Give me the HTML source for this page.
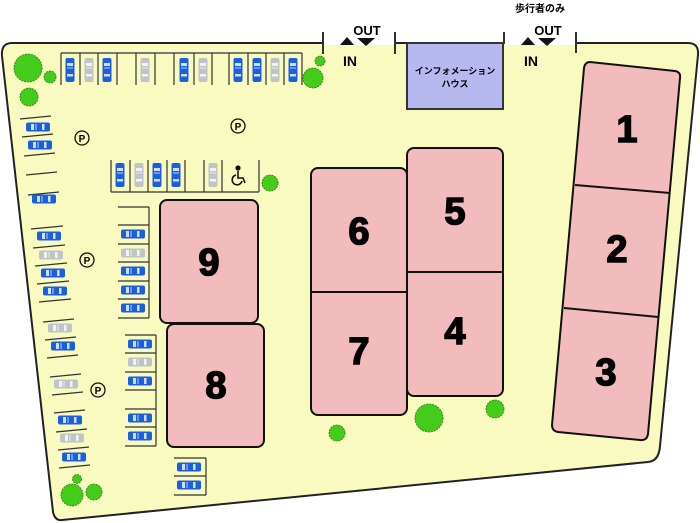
<!DOCTYPE html>
<html><head><meta charset="utf-8"><style>
html,body{margin:0;padding:0;background:#fff;}
svg{display:block;}
text{font-family:"Liberation Sans","Noto Sans CJK JP",sans-serif;font-weight:bold;}
</style></head><body>
<svg width="700" height="523" viewBox="0 0 700 523" xmlns="http://www.w3.org/2000/svg">
<defs>
<g id="cv"><rect x="-4.5" y="-12" width="9" height="24" rx="2"/><rect x="-3" y="-7" width="6" height="3" fill="#fff" opacity="0.8"/><rect x="-3" y="4" width="6" height="2.5" fill="#fff" opacity="0.8"/><line x1="-3" y1="-2" x2="3" y2="-2" stroke="#fff" stroke-width="0.7"/></g>
<g id="ch"><rect x="-12" y="-4.5" width="24" height="9" rx="2"/><rect x="-7" y="-3" width="3" height="6" fill="#fff" opacity="0.8"/><rect x="4" y="-3" width="2.5" height="6" fill="#fff" opacity="0.8"/><line x1="-2" y1="-3" x2="-2" y2="3" stroke="#fff" stroke-width="0.7"/></g>
</defs>
<path d="M12,43 L688,43 Q699,43 698,55 L660,446 Q659,461 648,462 L62,520 Q55,521 53,512 L2,56 Q1,43 12,43 Z" fill="#f9fac0" stroke="#222" stroke-width="2"/>
<rect x="324" y="41" width="70" height="4" fill="#fff"/>
<rect x="505" y="41" width="70" height="4" fill="#fff"/>
<g stroke="#333" stroke-width="2"><line x1="323" y1="32" x2="323" y2="54"/><line x1="395" y1="32" x2="395" y2="54"/><line x1="504" y1="32" x2="504" y2="44"/><line x1="576" y1="32" x2="576" y2="53"/></g>
<polygon points="340,45 347,37 354,45" fill="#111"/><polygon points="357,38 375,38 366,46" fill="#111"/>
<polygon points="521,45 528,37 535,45" fill="#111"/><polygon points="538,38 556,38 547,46" fill="#111"/>
<text x="367" y="35" font-size="13" text-anchor="middle">OUT</text>
<text x="350" y="66" font-size="14" text-anchor="middle">IN</text>
<text x="548" y="35" font-size="13" text-anchor="middle">OUT</text>
<text x="531" y="66" font-size="14" text-anchor="middle">IN</text>
<text x="540" y="12" font-size="10" text-anchor="middle">歩行者のみ</text>
<rect x="407" y="43" width="96" height="66" fill="#b8b8f0" stroke="#333" stroke-width="2"/>
<text x="455" y="74" font-size="9" text-anchor="middle">インフォメーション</text>
<text x="455" y="87" font-size="9" text-anchor="middle">ハウス</text>
<g fill="#f2bcbc" stroke="#111" stroke-width="2">
<path d="M590,62 L675,71 Q681,72 680,78 L648,434 Q647,441 640,440 L558,432 Q552,431 552,425 L584,68 Q585,62 590,62 Z"/>
<rect x="311" y="168" width="96" height="247" rx="7"/>
<rect x="407" y="148" width="96" height="248" rx="7"/>
<rect x="160" y="200" width="98" height="123" rx="7"/>
<rect x="167" y="324" width="97" height="123" rx="7"/>
</g>
<g stroke="#111" stroke-width="2"><line x1="575" y1="185" x2="670" y2="193"/><line x1="564" y1="308" x2="658" y2="317"/><line x1="311" y1="292" x2="407" y2="292"/><line x1="407" y1="272" x2="503" y2="272"/></g>
<g font-size="38" text-anchor="middle" fill="#000" stroke="#000" stroke-width="1.5">
<text x="627" y="142">1</text><text x="617" y="262">2</text><text x="606" y="385">3</text>
<text x="455" y="344">4</text><text x="455" y="224">5</text><text x="359" y="244">6</text><text x="359" y="364">7</text>
<text x="216" y="398">8</text><text x="209" y="275">9</text>
</g>
<g stroke="#333" stroke-width="1.2" fill="none">
<line x1="61" y1="53" x2="302" y2="53"/>
<line x1="61" y1="53" x2="61" y2="85"/><line x1="80" y1="53" x2="80" y2="85"/><line x1="98" y1="53" x2="98" y2="85"/><line x1="117" y1="53" x2="117" y2="85"/><line x1="136" y1="53" x2="136" y2="85"/><line x1="155" y1="53" x2="155" y2="85"/><line x1="174" y1="53" x2="174" y2="85"/><line x1="194" y1="53" x2="194" y2="85"/><line x1="212" y1="53" x2="212" y2="85"/><line x1="229" y1="53" x2="229" y2="85"/><line x1="248" y1="53" x2="248" y2="85"/><line x1="266" y1="53" x2="266" y2="85"/><line x1="284" y1="53" x2="284" y2="85"/><line x1="302" y1="53" x2="302" y2="85"/>
<line x1="111" y1="192" x2="259" y2="192"/>
<line x1="111" y1="160" x2="111" y2="192"/><line x1="130" y1="160" x2="130" y2="192"/><line x1="148" y1="160" x2="148" y2="192"/><line x1="167" y1="160" x2="167" y2="192"/><line x1="185" y1="160" x2="185" y2="192"/><line x1="204" y1="160" x2="204" y2="192"/><line x1="222" y1="160" x2="222" y2="192"/><line x1="259" y1="160" x2="259" y2="192"/>
<line x1="149" y1="207" x2="149" y2="318"/>
<line x1="118" y1="207" x2="149" y2="207"/><line x1="118" y1="225" x2="149" y2="225"/><line x1="118" y1="244" x2="149" y2="244"/><line x1="118" y1="262" x2="149" y2="262"/><line x1="118" y1="281" x2="149" y2="281"/><line x1="118" y1="299" x2="149" y2="299"/><line x1="118" y1="318" x2="149" y2="318"/>
<line x1="156" y1="335" x2="156" y2="446"/>
<line x1="125" y1="335" x2="156" y2="335"/><line x1="125" y1="353" x2="156" y2="353"/><line x1="125" y1="372" x2="156" y2="372"/><line x1="125" y1="390" x2="156" y2="390"/><line x1="125" y1="409" x2="156" y2="409"/><line x1="125" y1="427" x2="156" y2="427"/><line x1="125" y1="446" x2="156" y2="446"/>
<line x1="206" y1="458" x2="206" y2="495"/>
<line x1="174" y1="458" x2="206" y2="458"/><line x1="174" y1="476" x2="206" y2="476"/><line x1="174" y1="495" x2="206" y2="495"/>
<line x1="20" y1="119" x2="51" y2="116"/><line x1="22" y1="137" x2="53" y2="134"/><line x1="24" y1="156" x2="55" y2="153"/><line x1="26" y1="175" x2="57" y2="172"/><line x1="28" y1="195" x2="59" y2="192"/>
<line x1="31" y1="229" x2="63" y2="226"/><line x1="33" y1="248" x2="65" y2="245"/><line x1="35" y1="266" x2="67" y2="263"/><line x1="37" y1="284" x2="69" y2="281"/><line x1="39" y1="302" x2="71" y2="299"/>
<line x1="43" y1="322" x2="74" y2="319"/><line x1="45" y1="340" x2="76" y2="337"/><line x1="47" y1="358" x2="78" y2="355"/><line x1="50" y1="377" x2="81" y2="374"/><line x1="52" y1="395" x2="83" y2="392"/><line x1="54" y1="413" x2="85" y2="410"/><line x1="56" y1="432" x2="87" y2="429"/><line x1="58" y1="450" x2="89" y2="447"/><line x1="59" y1="468" x2="90" y2="465"/>
</g>
<g fill="#1a5fe0"><use href="#cv" x="70" y="70"/><use href="#cv" x="107" y="70"/><use href="#cv" x="184" y="70"/><use href="#cv" x="238" y="70"/><use href="#cv" x="257" y="70"/><use href="#cv" x="293" y="70"/>
<use href="#cv" x="120" y="175"/><use href="#cv" x="157" y="175"/><use href="#cv" x="176" y="175"/></g>
<g fill="#c0c4c8"><use href="#cv" x="89" y="70"/><use href="#cv" x="145" y="70"/><use href="#cv" x="203" y="70"/><use href="#cv" x="275" y="70"/><use href="#cv" x="139" y="175"/><use href="#cv" x="213" y="175"/></g>
<!-- wheelchair -->
<g fill="none" stroke="#111" stroke-width="1.6">
<circle cx="238" cy="168" r="1.8" fill="#111"/>
<path d="M238,171 L238,178 L243,178 L245,183"/>
<path d="M236,175 A5,5 0 1 0 242,181"/>
</g>
<g fill="#1a5fe0">
<use href="#ch" x="38" y="127"/><use href="#ch" x="40" y="145"/><use href="#ch" x="44" y="199"/>
<use href="#ch" x="49" y="236"/><use href="#ch" x="53" y="273"/><use href="#ch" x="55" y="291"/><use href="#ch" x="63" y="346"/><use href="#ch" x="70" y="420"/><use href="#ch" x="74" y="457"/>
<use href="#ch" x="133" y="234"/><use href="#ch" x="133" y="271"/><use href="#ch" x="133" y="290"/><use href="#ch" x="133" y="308"/>
<use href="#ch" x="140" y="344"/><use href="#ch" x="140" y="381"/><use href="#ch" x="140" y="418"/><use href="#ch" x="140" y="436"/>
<use href="#ch" x="189" y="467"/><use href="#ch" x="189" y="485"/></g>
<g fill="#c0c4c8"><use href="#ch" x="51" y="255"/><use href="#ch" x="60" y="328"/><use href="#ch" x="66" y="384"/><use href="#ch" x="72" y="438"/><use href="#ch" x="133" y="253"/><use href="#ch" x="140" y="362"/></g>
<g fill="none" stroke="#111" stroke-width="1.3"><circle cx="82" cy="138" r="7"/><circle cx="238" cy="126" r="7"/><circle cx="87" cy="260" r="7"/><circle cx="98" cy="390" r="7"/></g>
<g font-size="10" text-anchor="middle"><text x="82" y="142">P</text><text x="238" y="130">P</text><text x="87" y="264">P</text><text x="98" y="394">P</text></g>
<g fill="#44cc1a" stroke="#2a7a10" stroke-width="0.8" stroke-dasharray="2,1">
<circle cx="28" cy="68" r="14"/><circle cx="50" cy="77" r="6"/><circle cx="29" cy="97" r="9"/><circle cx="320" cy="61" r="5"/><circle cx="313" cy="78" r="10"/><circle cx="270" cy="183" r="8"/>
<circle cx="72" cy="495" r="11"/><circle cx="94" cy="492" r="8"/><circle cx="77" cy="479" r="4.5"/>
<circle cx="337" cy="433" r="8"/><circle cx="429" cy="418" r="14"/><circle cx="495" cy="409" r="9"/></g>
</svg>
</body></html>
